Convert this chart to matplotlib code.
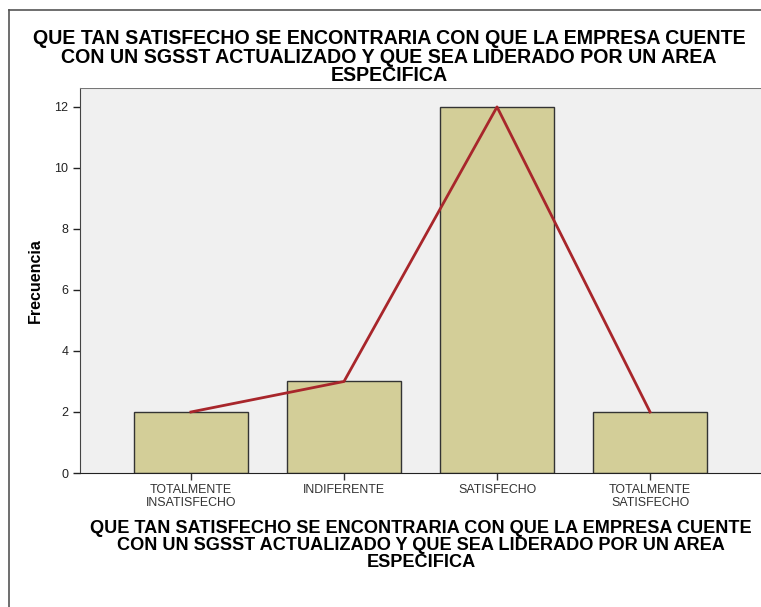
import matplotlib.pyplot as plt
from matplotlib.lines import Line2D

# Frecuencias por categoria
categorias = ["TOTALMENTE\nINSATISFECHO", "INDIFERENTE", "SATISFECHO", "TOTALMENTE\nSATISFECHO"]
frecuencias = [2, 3, 12, 2]
yticks = [0, 2, 4, 6, 8, 10, 12]

titulo = ("QUE TAN SATISFECHO SE ENCONTRARIA CON QUE LA EMPRESA CUENTE\n"
          "CON UN SGSST ACTUALIZADO Y QUE SEA LIDERADO POR UN AREA\n"
          "ESPECIFICA")

plt.rcParams['font.family'] = ['Liberation Sans', 'DejaVu Sans']

fig = plt.figure(figsize=(7.61, 6.07), dpi=100)
ax = fig.add_axes([80 / 761, 1 - 473 / 607, 681 / 761, (473 - 88) / 607])

x = list(range(len(categorias)))
ax.bar(x, frecuencias, width=0.75, color="#d3ce98", edgecolor="#333333", linewidth=1, zorder=2)
ax.plot(x, frecuencias, color="#a8262b", linewidth=2, zorder=3)

ax.set_facecolor("#f0f0f0")
ax.set_xlim(-0.725, 3.725)
ax.set_ylim(0, 12.62)
ax.set_yticks(yticks)
ax.set_xticks(x)
ax.set_xticklabels(categorias, fontsize=8.9, color="#222222", linespacing=1.05)
ax.tick_params(axis="y", labelsize=9, colors="#222222", length=5, width=1)
ax.tick_params(axis="x", length=5, width=1, colors="#333333", pad=3)
for s in ["top", "right"]:
    ax.spines[s].set_visible(False)
ax.spines["left"].set_color("#444444")
ax.spines["bottom"].set_color("#222222")
ax.axhline(12.62, color="#777777", linewidth=1.5, zorder=4)

ax.set_ylabel("Frecuencia", fontsize=11.5, fontweight="bold", labelpad=8)
fig.text(389 / 761, 1 - 29 / 607, titulo, ha="center", va="top", fontsize=14.1,
         fontweight="bold", linespacing=0.97)
fig.text(421 / 761, 1 - 520 / 607, titulo, ha="center", va="top", fontsize=13.1,
         fontweight="bold", linespacing=1.0)

# marco de la salida
fig.add_artist(Line2D([9 / 761, 9 / 761], [0, 1 - 10 / 607], color="#555555", linewidth=1.2))
fig.add_artist(Line2D([9 / 761, 1], [1 - 10 / 607, 1 - 10 / 607], color="#555555", linewidth=1.2))

fig.savefig("out.png", dpi=100)
